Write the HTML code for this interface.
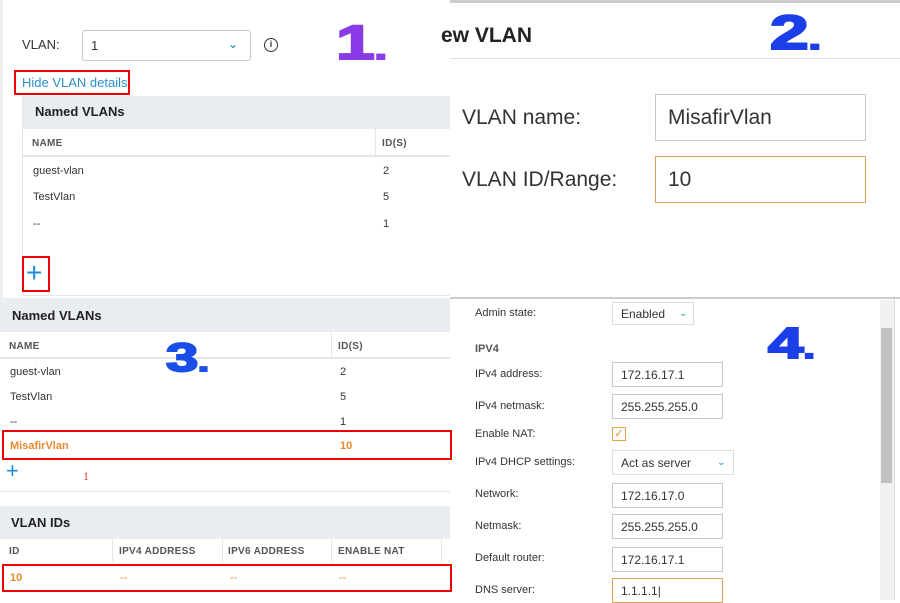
<!DOCTYPE html>
<html><head><meta charset="utf-8"><style>
*{margin:0;padding:0;box-sizing:border-box}
body{width:900px;height:600px;position:relative;overflow:hidden;background:#fff;font-family:"Liberation Sans",sans-serif;color:#333}
.a{position:absolute;white-space:nowrap}
.s{font-size:11px}
.h{font-size:10px;font-weight:bold;color:#555;letter-spacing:.3px}
.inp{position:absolute;border:1px solid #c8c8c8;background:#fff;font-size:12px;padding-left:8px;display:flex;align-items:center}
.big{font-family:"Liberation Sans",sans-serif;font-weight:bold;font-size:48px;position:absolute;line-height:1;transform:scaleX(1.45);transform-origin:0 0;-webkit-text-stroke:2px currentColor}
</style></head><body>
<!-- Q1 -->
<div class="a" style="left:0;top:0;width:3px;height:300px;background:#eee"></div>
<div class="a" style="left:22px;top:37px;font-size:13px">VLAN:</div>
<div class="inp" style="left:82px;top:30px;width:169px;height:31px;border-radius:3px;font-size:13px">1</div>
<div class="a" style="left:228px;top:37px;color:#1a78b4;font-size:12px">&#8964;</div>
<div class="a" style="left:264px;top:38px;width:14px;height:14px;border:1.5px solid #333;border-radius:50%;font-size:9px;text-align:center;line-height:11px;font-weight:bold">i</div>
<div class="big" style="left:336px;top:20px;color:#8a3be8">1<span style="font-size:30px">.</span></div>
<div class="a" style="left:14px;top:70px;width:116px;height:25px;border:2px solid #e00"></div>
<div class="a" style="left:22px;top:75px;color:#2a8fcf;font-size:13px">Hide VLAN details</div>
<div class="a" style="left:22px;top:96px;width:428px;height:33px;background:#e9ecf0"></div>
<div class="a" style="left:35px;top:104px;font-size:13px;font-weight:bold;color:#222">Named VLANs</div>
<div class="a" style="left:22px;top:155px;width:428px;height:2px;background:#e6e6e6"></div>
<div class="a" style="left:375px;top:129px;width:1px;height:27px;background:#e6e6e6"></div>
<div class="a h" style="left:32px;top:138px">NAME</div>
<div class="a h" style="left:382px;top:138px">ID(S)</div>
<div class="a s" style="left:33px;top:165px">guest-vlan</div><div class="a s" style="left:383px;top:165px">2</div>
<div class="a s" style="left:33px;top:191px">TestVlan</div><div class="a s" style="left:383px;top:191px">5</div>
<div class="a s" style="left:33px;top:218px">--</div><div class="a s" style="left:383px;top:218px">1</div>
<div class="a" style="left:22px;top:96px;width:1px;height:200px;background:#e6e6e6"></div>
<div class="a" style="left:22px;top:295px;width:428px;height:1px;background:#e6e6e6"></div>
<div class="a" style="left:22px;top:256px;width:28px;height:36px;border:2px solid #e00"></div>
<div class="a" style="left:26px;top:257px;color:#1a8fd6;font-size:28px;line-height:32px">+</div>
<!-- Q2 -->
<div class="a" style="left:450px;top:0;width:450px;height:3px;background:#ccc"></div>
<div class="a" style="left:441px;top:24px;font-size:21px;font-weight:bold;color:#222">ew VLAN</div>
<div class="a" style="left:450px;top:58px;width:450px;height:1px;background:#e0e0e0"></div>
<div class="big" style="left:770px;top:10px;color:#1a3ee8">2<span style="font-size:30px">.</span></div>
<div class="a" style="left:462px;top:106px;font-size:21px">VLAN name:</div>
<div class="inp" style="left:655px;top:94px;width:211px;height:47px;font-size:21px;padding-left:12px">MisafirVlan</div>
<div class="a" style="left:462px;top:168px;font-size:21px">VLAN ID/Range:</div>
<div class="inp" style="left:655px;top:156px;width:211px;height:47px;font-size:21px;padding-left:12px;border-color:#d9a25a">10</div>
<!-- Q3 -->
<div class="a" style="left:0;top:298px;width:450px;height:34px;background:#e9ecf0"></div>
<div class="a" style="left:12px;top:308px;font-size:13px;font-weight:bold;color:#222">Named VLANs</div>
<div class="a" style="left:0;top:357px;width:450px;height:2px;background:#e6e6e6"></div>
<div class="a" style="left:331px;top:332px;width:1px;height:26px;background:#e6e6e6"></div>
<div class="a h" style="left:9px;top:341px">NAME</div>
<div class="a h" style="left:338px;top:341px">ID(S)</div>
<div class="big" style="left:166px;top:338px;color:#1a4ee8;font-size:40px">3<span style="font-size:26px">.</span></div>
<div class="a s" style="left:10px;top:366px">guest-vlan</div><div class="a s" style="left:340px;top:366px">2</div>
<div class="a s" style="left:10px;top:391px">TestVlan</div><div class="a s" style="left:340px;top:391px">5</div>
<div class="a s" style="left:10px;top:416px">--</div><div class="a s" style="left:340px;top:416px">1</div>
<div class="a" style="left:2px;top:430px;width:450px;height:30px;border:2px solid #e00"></div>
<div class="a s" style="left:10px;top:440px;color:#e88a2e;font-weight:bold">MisafirVlan</div>
<div class="a s" style="left:340px;top:440px;color:#e88a2e;font-weight:bold">10</div>
<div class="a" style="left:6px;top:458px;color:#1a8fd6;font-size:22px">+</div>
<div class="a" style="left:83px;top:469px;color:#d33;font-size:12px;font-family:'Liberation Serif',serif">1</div>
<div class="a" style="left:0;top:491px;width:450px;height:1px;background:#e6e6e6"></div>
<div class="a" style="left:0;top:506px;width:450px;height:33px;background:#e9ecf0"></div>
<div class="a" style="left:11px;top:515px;font-size:13px;font-weight:bold;color:#222">VLAN IDs</div>
<div class="a" style="left:112px;top:539px;width:1px;height:23px;background:#e6e6e6"></div>
<div class="a" style="left:222px;top:539px;width:1px;height:23px;background:#e6e6e6"></div>
<div class="a" style="left:331px;top:539px;width:1px;height:23px;background:#e6e6e6"></div>
<div class="a" style="left:441px;top:539px;width:1px;height:23px;background:#e6e6e6"></div>
<div class="a h" style="left:9px;top:546px">ID</div>
<div class="a h" style="left:119px;top:546px">IPV4 ADDRESS</div>
<div class="a h" style="left:228px;top:546px">IPV6 ADDRESS</div>
<div class="a h" style="left:338px;top:546px">ENABLE NAT</div>
<div class="a" style="left:2px;top:564px;width:450px;height:28px;border:2px solid #e00"></div>
<div class="a s" style="left:10px;top:572px;color:#e88a2e;font-weight:bold">10</div>
<div class="a s" style="left:120px;top:572px;color:#e88a2e">--</div>
<div class="a s" style="left:230px;top:572px;color:#e88a2e">--</div>
<div class="a s" style="left:339px;top:572px;color:#e88a2e">--</div>
<!-- Q4 -->
<div class="a" style="left:450px;top:297px;width:450px;height:2px;background:#ccc"></div>
<div class="a" style="left:880px;top:300px;width:14px;height:300px;background:#f1f1f1"></div>
<div class="a" style="left:881px;top:328px;width:11px;height:155px;background:#c1c1c1"></div>
<div class="a" style="left:894px;top:299px;width:1px;height:301px;background:#ddd"></div>
<div class="big" style="left:768px;top:322px;color:#1a3ee8;font-size:44px">4<span style="font-size:28px">.</span></div>
<div class="a s" style="left:475px;top:307px">Admin state:</div>
<div class="inp" style="left:612px;top:302px;width:82px;height:23px;border-color:#ddd">Enabled<span style="color:#1a9fd6;margin-left:14px;font-size:10px">&#8964;</span></div>
<div class="a s" style="left:475px;top:343px;font-weight:bold;color:#555">IPV4</div>
<div class="a s" style="left:475px;top:368px">IPv4 address:</div>
<div class="inp" style="left:612px;top:362px;width:111px;height:25px">172.16.17.1</div>
<div class="a s" style="left:475px;top:400px">IPv4 netmask:</div>
<div class="inp" style="left:612px;top:394px;width:111px;height:25px">255.255.255.0</div>
<div class="a s" style="left:475px;top:428px">Enable NAT:</div>
<div class="a" style="left:612px;top:427px;width:14px;height:14px;border:1px solid #e8a050;color:#e8902e;font-size:11px;line-height:12px;text-align:center">&#10003;</div>
<div class="a s" style="left:475px;top:456px">IPv4 DHCP settings:</div>
<div class="inp" style="left:612px;top:450px;width:122px;height:25px;border-color:#ddd">Act as server<span style="color:#1a9fd6;margin-left:26px;font-size:10px">&#8964;</span></div>
<div class="a s" style="left:475px;top:488px">Network:</div>
<div class="inp" style="left:612px;top:483px;width:111px;height:25px">172.16.17.0</div>
<div class="a s" style="left:475px;top:520px">Netmask:</div>
<div class="inp" style="left:612px;top:514px;width:111px;height:25px">255.255.255.0</div>
<div class="a s" style="left:475px;top:552px">Default router:</div>
<div class="inp" style="left:612px;top:547px;width:111px;height:25px">172.16.17.1</div>
<div class="a s" style="left:475px;top:584px">DNS server:</div>
<div class="inp" style="left:612px;top:578px;width:111px;height:25px;border-color:#d9a25a">1.1.1.1|</div>
</body></html>
